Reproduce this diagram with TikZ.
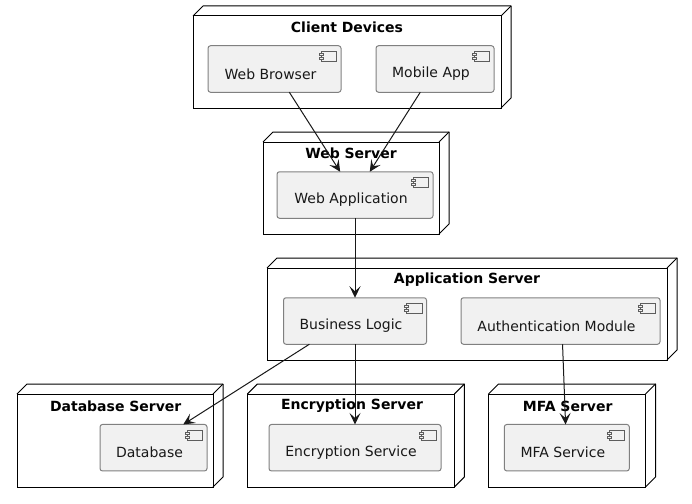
\documentclass[tikz,border=0pt]{standalone}
\usepackage{fontspec}
\setmainfont{DejaVu Sans}
\usetikzlibrary{arrows.meta}
\definecolor{compfill}{HTML}{F1F1F1}
\definecolor{inkline}{HTML}{181818}

\begin{document}
\begin{tikzpicture}[
  x=1pt, y=-1pt,
  srv/.style={draw=black, line width=1pt, rectangle, outer sep=0pt, inner sep=0pt},
  srvtitle/.style={font=\fontsize{14}{16}\selectfont\bfseries, inner sep=0pt, text=black},
  comp/.style={draw=inkline!55, line width=1pt, fill=compfill, rectangle, rounded corners=2.5pt,
               outer sep=0pt, inner sep=0pt, minimum height=46.5pt},
  complabel/.style={font=\fontsize{14}{16}\selectfont, inner sep=0pt, text=inkline,
                    xshift=-4pt, yshift=-5pt},
  arr/.style={-{Stealth[length=11.5pt, width=11pt, inset=5pt]}, line width=1pt, inkline}
]
\useasboundingbox (0,0) rectangle (692,503);
% Server boxes
\node[srv, minimum width=308pt, minimum height=92pt] (client) at (347, 62) {};
\node[srv, minimum width=176pt, minimum height=92pt] (web)    at (351, 188) {};
\node[srv, minimum width=400pt, minimum height=92pt] (app)    at (467, 314) {};
\node[srv, minimum width=196pt, minimum height=93pt] (dbsrv)  at (115, 440.5) {};
\node[srv, minimum width=207pt, minimum height=93pt] (encsrv) at (350.8, 440.5) {};
\node[srv, minimum width=157pt, minimum height=93pt] (mfasrv) at (567, 440.5) {};
\foreach \n in {client, web, app, dbsrv, encsrv, mfasrv} {
  \draw[line width=1pt, line join=round] (\n.north west) -- ++(10,-10)
    -- ([shift={(10,-10)}]\n.north east) -- ([shift={(10,-10)}]\n.south east) -- (\n.south east);
  \draw[line width=1pt] (\n.north east) -- ++(10,-10);
}
% Titles
\node[srvtitle] (clienttitle) at (347, 27)  {Client Devices};
\node[srvtitle] (webtitle)    at (351, 153) {Web Server};
\node[srvtitle] (apptitle)    at (467, 280) {Application Server};
\node[srvtitle] (dbtitle)     at (115.7, 406) {Database Server};
\node[srvtitle] (enctitle)    at (352, 406) {Encryption Server};
\node[srvtitle] (mfatitle)    at (567.7, 406) {MFA Server};
% Components
\node[comp, minimum width=133pt, label={[complabel]center:Web Browser}]          (browser)  at (274.5, 69) {};
\node[comp, minimum width=118pt, label={[complabel]center:Mobile App}]           (mobile)   at (435, 69) {};
\node[comp, minimum width=156pt, label={[complabel]center:Web Application}]      (webapp)   at (355, 195) {};
\node[comp, minimum width=143pt, label={[complabel]center:Business Logic}]       (logic)    at (355, 321) {};
\node[comp, minimum width=199pt, label={[complabel]center:Authentication Module}] (auth)    at (560.5, 321) {};
\node[comp, minimum width=107pt, label={[complabel]center:Database}]             (db)       at (153.5, 447.7) {};
\node[comp, minimum width=172pt, label={[complabel]center:Encryption Service}]   (enc)      at (355, 447.7) {};
\node[comp, minimum width=125pt, label={[complabel]center:MFA Service}]          (mfa)      at (566.8, 447.7) {};
% Component icons
\foreach \n in {browser, mobile, webapp, logic, auth, db, enc, mfa} {
  \draw[inkline!70, line width=0.8pt] ([shift={(-20,5.5)}]\n.north east) rectangle ([shift={(-4.5,15.5)}]\n.north east);
  \draw[inkline!70, line width=0.8pt, fill=compfill] ([shift={(-22,7.5)}]\n.north east) rectangle ([shift={(-18,9.5)}]\n.north east);
  \draw[inkline!70, line width=0.8pt, fill=compfill] ([shift={(-22,11.5)}]\n.north east) rectangle ([shift={(-18,13.5)}]\n.north east);
}
% Links
\draw[arr] (browser) -- (webapp);
\draw[arr] (mobile) -- (webapp);
\draw[arr] (webapp) -- (logic);
\draw[arr] (logic.207) -- (db.38.5);
\draw[arr] (logic) -- (enc);
\draw[arr] (auth.-85.5) -- (mfa.93.6);
\end{tikzpicture}
\end{document}
